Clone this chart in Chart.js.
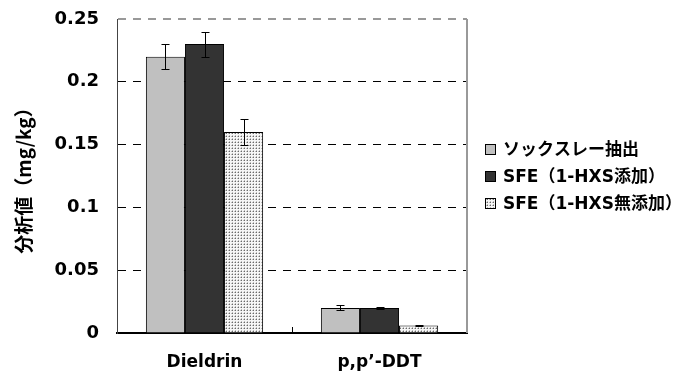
<!DOCTYPE html>
<html>
<head>
<meta charset="utf-8">
<script src="https://cdn.jsdelivr.net/npm/chart.js@4.4.1/dist/chart.umd.min.js"></script>
<style>
  html, body { margin: 0; padding: 0; background: #fff; }
  #wrap { width: 685px; height: 374px; }
</style>
</head>
<body>
<div id="wrap"><canvas id="barChart" width="685" height="374"></canvas></div>
<script>
// datos
const categorias = ['Dieldrin', 'p,p’-DDT']
const series = ['ソックスレー抽出', 'SFE（1-HXS添加）', 'SFE（1-HXS無添加）']
const valSoxhlet = [0.22, 0.02]
const valSfeAdd = [0.23, 0.02]
const valSfeNoAdd = [0.16, 0.006]
const errSoxhlet = [0.01, 0.002]
const errSfeAdd = [0.01, 0.001]
const errSfeNoAdd = [0.01, 0.0005]
const yMin = 0
const yMax = 0.25
const yStep = 0.05

const fuente = 'DejaVu Sans, "Noto Sans CJK JP", sans-serif'

// patron punteado para la tercera serie
function crearPatron () {
  const c = document.createElement('canvas')
  c.width = 3
  c.height = 3
  const g = c.getContext('2d')
  g.fillStyle = '#f6f6f6'
  g.fillRect(0, 0, 3, 3)
  g.fillStyle = '#bdbdbd'
  g.fillRect(0, 1, 1, 1)
  g.fillRect(1, 0, 1, 1)
  g.fillStyle = '#6a6a6a'
  g.fillRect(1, 1, 1, 1)
  return g.createPattern(c, 'repeat')
}
const patron = crearPatron()

// barras de error, bordes del area y leyenda
const extras = {
  id: 'extras',
  afterDatasetsDraw (chart) {
    const ctx = chart.ctx
    const y = chart.scales.y
    const x = chart.scales.x
    const area = chart.chartArea
    ctx.save()
    ctx.strokeStyle = '#000'
    ctx.lineWidth = 1
    chart.data.datasets.forEach((ds, i) => {
      const meta = chart.getDatasetMeta(i)
      meta.data.forEach((bar, j) => {
        const e = ds.errores[j]
        const v = ds.data[j]
        const top = Math.round(y.getPixelForValue(v + e)) + 0.5
        const bot = Math.round(y.getPixelForValue(v - e)) + 0.5
        const cx = Math.round(bar.x) + 0.5
        ctx.beginPath()
        ctx.moveTo(cx, top)
        ctx.lineTo(cx, bot)
        ctx.moveTo(cx - 4, top)
        ctx.lineTo(cx + 4, top)
        ctx.moveTo(cx - 4, bot)
        ctx.lineTo(cx + 4, bot)
        ctx.stroke()
      })
    })
    // borde derecho
    ctx.strokeStyle = '#999'
    ctx.lineWidth = 2
    ctx.beginPath()
    ctx.moveTo(area.right, area.top)
    ctx.lineTo(area.right, area.bottom)
    ctx.stroke()
    // marca entre categorias
    const mid = Math.round((x.getPixelForTick(0) + x.getPixelForTick(1)) / 2) + 0.5
    ctx.strokeStyle = '#000'
    ctx.lineWidth = 1
    ctx.beginPath()
    ctx.moveTo(mid, area.bottom)
    ctx.lineTo(mid, area.bottom - 6)
    ctx.stroke()
    // leyenda
    const lx = area.right + 18
    const ly0 = 150
    const paso = 27
    ctx.font = 'bold 17px ' + fuente
    ctx.textBaseline = 'middle'
    ctx.textAlign = 'left'
    chart.data.datasets.forEach((ds, i) => {
      const yy = ly0 + i * paso
      ctx.fillStyle = ds.backgroundColor
      ctx.fillRect(lx, yy - 5, 10, 10)
      ctx.strokeStyle = '#000'
      ctx.lineWidth = 1
      ctx.strokeRect(lx + 0.5, yy - 5.5, 10, 10)
      ctx.fillStyle = '#000'
      ctx.fillText(ds.label, lx + 18, yy + 1)
    })
    ctx.restore()
  }
}

const ctx1 = document.getElementById('barChart').getContext('2d')
const myChart1 = new Chart(ctx1, {
  type: 'bar',
  data: {
    labels: categorias,
    datasets: [
      { label: series[0], data: valSoxhlet, errores: errSoxhlet, backgroundColor: '#c0c0c0', borderColor: '#000', borderWidth: 1 },
      { label: series[1], data: valSfeAdd, errores: errSfeAdd, backgroundColor: '#333333', borderColor: '#000', borderWidth: 1 },
      { label: series[2], data: valSfeNoAdd, errores: errSfeNoAdd, backgroundColor: patron, borderColor: '#000', borderWidth: 1 }
    ]
  },
  options: {
    responsive: false,
    animation: false,
    devicePixelRatio: 1,
    layout: { padding: { top: 19, left: 12, right: 218, bottom: 0 } },
    datasets: { bar: { barPercentage: 1, categoryPercentage: 0.67 } },
    plugins: {
      tooltip: { enabled: false },
      legend: { display: false }
    },
    scales: {
      x: {
        grid: { display: false },
        border: { color: '#000', width: 2 },
        ticks: { color: '#000', padding: 11, font: { family: fuente, size: 17, weight: 'bold' } },
        afterFit (s) { s.height = 41 }
      },
      y: {
        min: yMin,
        max: yMax,
        ticks: {
          stepSize: yStep,
          color: '#000',
          padding: 18,
          font: { family: fuente, size: 18, weight: 'bold' },
          callback: (v) => String(Math.round(v * 100) / 100)
        },
        grid: {
          drawTicks: false,
          color: (c) => c.tick.value >= yMax ? '#999' : '#000',
          lineWidth: (c) => c.tick.value >= yMax ? 2 : 1
        },
        border: { color: '#444', width: 1, dash: [8, 7] },
        title: {
          display: true,
          text: '分析値（mg/kg）',
          color: '#000',
          padding: { top: 0, bottom: 6 },
          font: { family: '"Noto Sans CJK JP", sans-serif', size: 19, weight: 'bold' }
        },
        afterFit (s) {
          s.width = 105
          s.paddingTop = 0
          s.paddingBottom = 0
        }
      }
    }
  },
  plugins: [extras]
})
</script>
</body>
</html>
